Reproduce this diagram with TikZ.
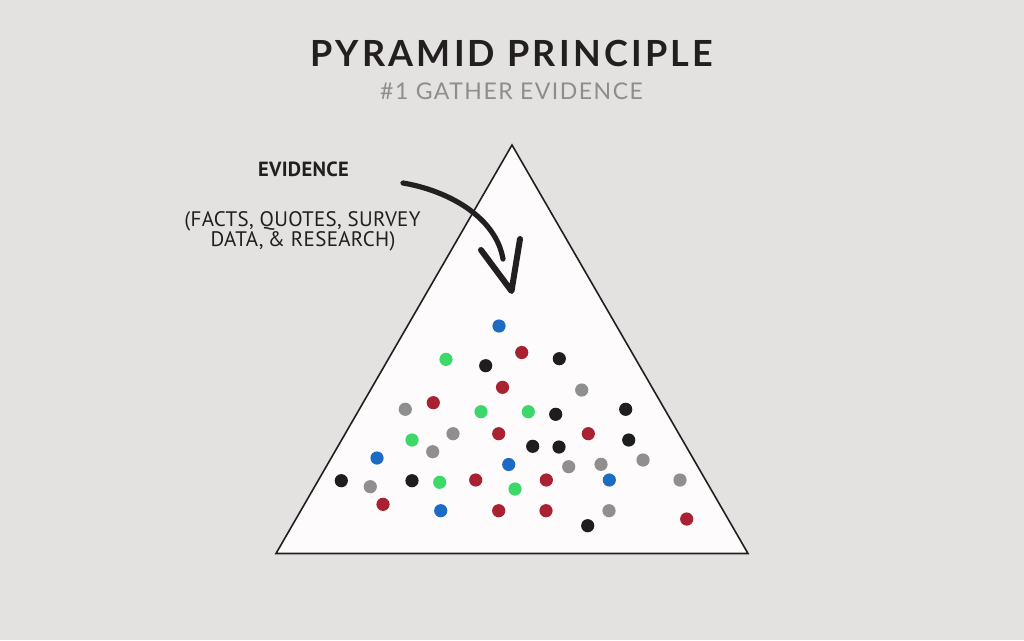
\documentclass[tikz,border=0pt]{standalone}
\usepackage{fontspec}
\setmainfont{Lato}
\newfontfamily\titlefont[LetterSpace=9]{Lato Bold}
\newfontfamily\subfont[LetterSpace=6.5]{Lato}
\newfontfamily\labfont[LetterSpace=1.5]{PT Sans}
\definecolor{bg}{HTML}{E4E1E1}
\definecolor{tri}{HTML}{FDFBFC}
\definecolor{ink}{HTML}{231F20}
\definecolor{subgray}{HTML}{8E8C8D}
\definecolor{dblue}{HTML}{1E6BC4}
\definecolor{dred}{HTML}{A82232}
\definecolor{dgreen}{HTML}{3DD86A}
\definecolor{dblack}{HTML}{1E1E1E}
\definecolor{dgray}{HTML}{8F8F8F}
\tikzset{
  dot/.style={circle, inner sep=0pt, minimum size=13.2pt, fill=#1},
  txt/.style={inner sep=0pt, anchor=base, text=ink},
  pen/.style={draw=ink, line width=5.2pt, line cap=round, line join=round},
}
\begin{document}
\begin{tikzpicture}[x=1pt, y=-1pt]
\fill[bg] (0,0) rectangle (1024,640);
\useasboundingbox (0,0) rectangle (1024,640);
% pyramid
\coordinate (apex) at (512,145);
\coordinate (bl) at (276,553.5);
\coordinate (br) at (748,553.5);
\filldraw[fill=tri, draw=ink, line width=1.6pt, line join=miter] (apex) -- (bl) -- (br) -- cycle;
% titles
\node[txt, font=\titlefont\fontsize{36}{40}\selectfont] (title) at (512,66.7) {PYRAMID PRINCIPLE};
\node[txt, text=subgray, font=\subfont\fontsize{23}{26}\selectfont] (sub) at (511.5,99) {\#1 GATHER EVIDENCE};
% label
\node[txt, font=\labfont\bfseries\fontsize{20.5}{22}\selectfont] (ev) at (303.5,176) {EVIDENCE};
\node[txt, font=\labfont\fontsize{21}{22}\selectfont] (evl1) at (302.5,226) {(FACTS, QUOTES, SURVEY};
\node[txt, font=\labfont\fontsize{21}{22}\selectfont] (evl2) at (303,246) {DATA,\hspace{0.2em}\& RESEARCH)};
% arrow
\coordinate (a0) at (403,183);
\coordinate (a1) at (503,259);
\coordinate (h1) at (481,250);
\coordinate (tip) at (511.5,291);
\coordinate (h2) at (520,239);
\draw[pen] (a0) .. controls (450,191) and (496,218) .. (a1);
\draw[pen, line width=6pt] (h1) -- (tip) -- (h2);
% dots
\foreach \c/\x/\y [count=\i] in {
 dblue/499/326, dblue/377/458, dblue/508.7/464.5, dblue/440.7/510.7, dblue/609.3/480,
 dred/521.7/352.5, dred/502.5/387.3, dred/433.3/402.7, dred/498.7/433.7, dred/475.7/480,
 dred/383/504.3, dred/498.7/510.7, dred/588.3/433.7, dred/546.3/480, dred/546/510.7, dred/686.7/519,
 dgreen/446/359.3, dgreen/481/411.7, dgreen/528.3/411.7, dgreen/412/440, dgreen/439.7/482.3, dgreen/515/489,
 dblack/485.7/365.7, dblack/341.3/480.7, dblack/412/480.7, dblack/559.3/358.7, dblack/555.7/414.3,
 dblack/625.7/409.3, dblack/628.7/440, dblack/532.7/446.3, dblack/559/447, dblack/587.7/525.7,
 dgray/405.3/409.3, dgray/453/433.7, dgray/432.7/451.7, dgray/370.3/486.7, dgray/581.7/390,
 dgray/568.7/466.7, dgray/601/464.3, dgray/643/460, dgray/680/480, dgray/609/510.7}
 \node[dot=\c] (d\i) at (\x,\y) {};
\end{tikzpicture}
\end{document}
